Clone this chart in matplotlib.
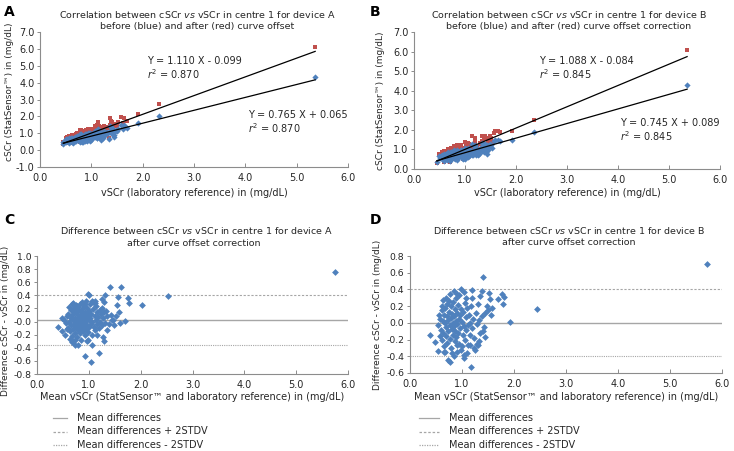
import matplotlib
matplotlib.use("Agg")
import matplotlib.pyplot as plt
import numpy as np
from matplotlib.lines import Line2D

# ---------------- data ----------------
# Bland-Altman pairs after curve offset correction: mean of (cSCr, vSCr) and difference cSCr - vSCr
mean_a = [5.74, 2.52, 2.03, 1.70, 1.62, 1.40, 1.31, 1.57, 1.76, 1.78, 1.30, 1.54, 1.59, 1.33, 1.44,
          1.12, 0.99, 0.41, 0.93, 1.04, 1.20, 0.98, 1.06, 1.28, 1.29, 0.79, 0.73, 0.67, 0.64, 0.54,
          0.49, 0.48, 1.15, 1.36, 1.38, 1.47, 1.22, 1.14, 1.09, 0.93, 0.80, 0.70, 0.77,
          0.55, 0.58, 0.60, 0.60, 0.62, 0.63, 0.65, 0.65, 0.66, 0.68, 0.68, 0.70, 0.70, 0.71, 0.72,
          0.72, 0.73, 0.74, 0.75, 0.75, 0.76, 0.77, 0.77, 0.78, 0.78, 0.79, 0.80, 0.80, 0.81, 0.82,
          0.82, 0.83, 0.84, 0.84, 0.85, 0.85, 0.86, 0.87, 0.88, 0.88, 0.89, 0.90, 0.90, 0.91, 0.92,
          0.92, 0.93, 0.94, 0.95, 0.95, 0.96, 0.97, 0.98, 0.99, 1.00, 1.00, 1.01, 1.02, 1.03, 1.04,
          1.05, 1.06, 1.07, 1.08, 1.10, 1.11, 1.12, 1.13, 1.15, 1.16, 1.18, 1.20, 1.22, 1.24, 1.26,
          1.28, 1.30, 1.32, 1.35, 0.57, 0.62, 0.67, 0.74, 0.83, 0.69, 0.87, 0.94, 1.06, 1.12, 0.52,
          1.25, 1.42, 1.48, 1.52, 1.60, 0.97, 1.00, 1.25]
diff_a = [0.76, 0.385, 0.25, 0.015, 0.53, 0.53, 0.40, 0.37, 0.36, 0.29, 0.30, 0.26, 0.15, 0.16, 0.02,
          0.28, 0.42, -0.09, -0.52, -0.61, -0.48, -0.28, -0.35, -0.23, -0.29, -0.35, -0.36, -0.31, -0.26, -0.20,
          -0.15, 0.05, -0.20, -0.13, -0.03, 0.03, 0.18, 0.23, 0.30, 0.27, 0.18, 0.28, 0.23,
          -0.02, 0.08, -0.10, 0.12, 0.00, -0.15, 0.05, 0.18, -0.06, 0.10, -0.22, 0.02, -0.12, 0.20, -0.04,
          0.14, -0.18, 0.06, -0.08, 0.25, 0.00, -0.24, 0.12, -0.02, 0.17, -0.13, 0.04, 0.22, -0.06, 0.09,
          -0.18, 0.01, 0.14, -0.10, -0.28, 0.05, 0.19, -0.03, 0.10, -0.15, 0.00, 0.24, -0.07, 0.07, -0.20,
          0.15, -0.01, 0.11, -0.12, 0.04, 0.20, -0.05, 0.08, -0.16, 0.02, 0.16, -0.09, 0.27, 0.06, -0.03,
          0.12, -0.20, 0.00, 0.19, -0.08, 0.09, -0.13, 0.03, 0.15, -0.04, 0.07, -0.10, 0.00, 0.12, -0.06,
          0.05, 0.14, -0.02, 0.08, -0.12, 0.22, 0.27, -0.28, 0.27, -0.30, 0.30, 0.32, 0.32, 0.32, 0.02,
          0.20, 0.10, -0.05, 0.08, -0.02, -0.30, 0.40, 0.35]

mean_b = [5.71, 1.41, 2.44, 1.92, 1.76, 1.81, 1.79, 1.54, 1.51, 1.38, 1.19, 0.99, 1.03, 0.85, 1.35,
          0.38, 0.48, 0.54, 0.67, 0.74, 0.77, 1.03, 1.04, 1.17, 1.25, 1.31, 1.44, 1.40, 1.15, 0.91,
          0.80, 1.33, 1.50, 1.55, 1.28, 1.70, 1.58, 0.75, 0.90, 0.62, 0.55,
          0.58, 0.60, 0.61, 0.62, 0.63, 0.64, 0.65, 0.66, 0.67, 0.68, 0.69, 0.70, 0.71, 0.72, 0.72,
          0.73, 0.74, 0.75, 0.76, 0.77, 0.78, 0.78, 0.79, 0.80, 0.81, 0.82, 0.82, 0.83, 0.84, 0.85,
          0.86, 0.87, 0.87, 0.88, 0.89, 0.90, 0.91, 0.92, 0.93, 0.94, 0.95, 0.96, 0.97, 0.98, 0.99,
          1.00, 1.01, 1.02, 1.03, 1.05, 1.06, 1.07, 1.08, 1.10, 1.11, 1.12, 1.13, 1.15, 1.16, 1.18,
          1.20, 1.22, 1.24, 1.26, 1.28, 1.30, 1.32, 1.35, 1.38, 1.42, 0.57, 0.63, 0.70, 0.88, 0.95,
          1.08, 0.66, 0.90, 1.00, 0.53, 0.76, 1.20, 1.45, 1.48, 0.85, 1.10, 1.23]
diff_b = [0.71, 0.55, 0.17, 0.01, 0.34, 0.31, 0.22, 0.29, 0.36, 0.38, 0.39, 0.40, 0.37, 0.38, 0.32,
          -0.14, -0.23, -0.34, -0.35, -0.44, -0.47, -0.38, -0.42, -0.53, -0.32, -0.27, -0.17, -0.10, -0.26, -0.26,
          -0.36, -0.22, 0.15, 0.10, -0.25, 0.28, 0.18, 0.26, 0.34, 0.20, 0.10,
          0.05, -0.08, 0.15, -0.20, 0.02, -0.12, 0.10, -0.28, 0.00, 0.18, -0.05, -0.16, 0.08, 0.22, -0.24,
          0.03, -0.10, 0.13, -0.02, -0.19, 0.06, 0.20, -0.30, -0.07, 0.11, 0.00, -0.14, 0.25, -0.04, 0.08,
          -0.22, 0.16, -0.10, 0.02, -0.17, 0.12, -0.01, 0.21, -0.12, 0.05, -0.25, 0.09, -0.06, 0.17, -0.32,
          0.01, -0.15, 0.13, -0.04, 0.24, -0.20, 0.07, -0.09, 0.18, -0.02, -0.27, 0.10, 0.00, -0.14, 0.20,
          -0.06, 0.05, -0.18, 0.12, -0.01, 0.22, 0.04, -0.12, 0.08, -0.05, -0.16, 0.27, 0.30, 0.30, 0.33,
          0.30, -0.35, -0.35, -0.28, -0.02, 0.35, 0.30, 0.12, 0.20, -0.40, -0.36, -0.30]

# regression equations printed on the charts (before / after curve offset correction)
slope_before_a, icpt_before_a = 0.765, 0.065
slope_after_a, icpt_after_a = 1.110, -0.099
r2_a = 0.870
slope_before_b, icpt_before_b = 0.745, 0.089
slope_after_b, icpt_after_b = 1.088, -0.084
r2_b = 0.845

# mean difference and +/- 2 STDV limits
limits_a = (0.02, 0.40, -0.36)
limits_b = (0.00, 0.40, -0.40)

# ---------------- derived series ----------------
def pairs(mean, diff, sb, ib, sa, ia):
    mean = np.asarray(mean); diff = np.asarray(diff)
    vscr = mean - diff / 2.0
    after = mean + diff / 2.0
    before = ib + (sb / sa) * (after - ia)   # undo the linear offset correction
    return vscr, before, after

vA, befA, aftA = pairs(mean_a, diff_a, slope_before_a, icpt_before_a, slope_after_a, icpt_after_a)
vB, befB, aftB = pairs(mean_b, diff_b, slope_before_b, icpt_before_b, slope_after_b, icpt_after_b)

# ---------------- style ----------------
W, H = 734, 451
BLUE = "#4F81BD"
RED = "#C0504D"
GRID = "#8C8C8C"
TXT = "#262626"
FS = 7.0
YFS = 6.5
plt.rcParams["font.family"] = ["DejaVu Sans"]
plt.rcParams["mathtext.fontset"] = "dejavusans"

fig = plt.figure(figsize=(W / 100, H / 100), dpi=100)


def add_ax(l, t, r, b):
    return fig.add_axes([l / W, 1 - b / H, (r - l) / W, (b - t) / H])


def style(ax, xt, yt, yfs=FS):
    for s in ("top", "right"):
        ax.spines[s].set_visible(False)
    for s in ("left", "bottom"):
        ax.spines[s].set_color(GRID)
        ax.spines[s].set_linewidth(0.8)
    ax.set_xticks(xt)
    ax.set_yticks(yt)
    ax.set_xticklabels([f"{v:.1f}" for v in xt])
    ax.set_yticklabels([f"{v:.1f}" for v in yt])
    ax.tick_params(axis="x", direction="in", length=3, width=0.7, color=GRID,
                   labelsize=FS, labelcolor=TXT, pad=4)
    ax.tick_params(axis="y", direction="out", length=2, width=0.7, color=GRID,
                   labelsize=yfs, labelcolor=TXT, pad=2)
    ax.set_xlim(xt[0], xt[-1])
    ax.set_ylim(yt[0], yt[-1])


def ftext(px, py, s, **kw):
    kw.setdefault("fontsize", FS)
    kw.setdefault("color", TXT)
    fig.text(px / W, 1 - py / H, s, **kw)


xt = np.arange(0, 7, 1.0)

# ---------- panel A ----------
axA = add_ax(40, 32, 348, 167)
axA.scatter(vA, aftA, marker="s", s=12, color=RED, linewidths=0, zorder=2)
axA.scatter(vA, befA, marker="D", s=10, color=BLUE, linewidths=0, zorder=3)
xr = np.array([vA.min(), vA.max()])
axA.plot(xr, slope_after_a * xr + icpt_after_a, color="black", lw=0.9, zorder=4)
axA.plot(xr, slope_before_a * xr + icpt_before_a, color="black", lw=0.9, zorder=4)
style(axA, xt, np.arange(-1, 8, 1.0))
axA.set_xlabel("vSCr (laboratory reference) in (mg/dL)", fontsize=FS, color=TXT)
axA.set_ylabel("cSCr (StatSensor™) in (mg/dL)", fontsize=YFS, color=TXT)
axA.yaxis.set_label_coords(-0.085, 0.56)
axA.xaxis.set_label_coords(0.5, -0.155)
ftext(147, 61, f"Y = {slope_after_a:.3f} X - {abs(icpt_after_a):.3f}", va="center")
ftext(147, 74, f"$r^2$ = {r2_a:.3f}", va="center")
ftext(248, 115, f"Y = {slope_before_a:.3f} X + {icpt_before_a:.3f}", va="center")
ftext(248, 128, f"$r^2$ = {r2_a:.3f}", va="center")
ftext(197, 15, "Correlation between cSCr $\\it{vs}$ vSCr in centre 1 for device A", ha="center", va="center", fontsize=6.8)
ftext(197, 27, "before (blue) and after (red) curve offset", ha="center", va="center", fontsize=6.8)
ftext(4, 12, "A", fontsize=10, fontweight="bold", color="black", va="center")

# ---------- panel B ----------
axB = add_ax(414, 32, 720, 169)
axB.scatter(vB, aftB, marker="s", s=12, color=RED, linewidths=0, zorder=2)
axB.scatter(vB, befB, marker="D", s=10, color=BLUE, linewidths=0, zorder=3)
xr = np.array([vB.min(), vB.max()])
axB.plot(xr, slope_after_b * xr + icpt_after_b, color="black", lw=0.9, zorder=4)
axB.plot(xr, slope_before_b * xr + icpt_before_b, color="black", lw=0.9, zorder=4)
style(axB, xt, np.arange(0, 8, 1.0))
axB.set_xlabel("vSCr (laboratory reference) in (mg/dL)", fontsize=FS, color=TXT)
axB.set_ylabel("cSCr (StatSensor™) in (mg/dL)", fontsize=YFS, color=TXT)
axB.yaxis.set_label_coords(-0.095, 0.5)
axB.xaxis.set_label_coords(0.5, -0.14)
ftext(539, 61, f"Y = {slope_after_b:.3f} X - {abs(icpt_after_b):.3f}", va="center")
ftext(539, 74, f"$r^2$ = {r2_b:.3f}", va="center")
ftext(620, 123, f"Y = {slope_before_b:.3f} X + {icpt_before_b:.3f}", va="center")
ftext(620, 136, f"$r^2$ = {r2_b:.3f}", va="center")
ftext(569, 15, "Correlation between cSCr $\\it{vs}$ vSCr in centre 1 for device B", ha="center", va="center", fontsize=6.8)
ftext(569, 27, "before (blue) and after (red) curve offset correction", ha="center", va="center", fontsize=6.8)
ftext(370, 12, "B", fontsize=10, fontweight="bold", color="black", va="center")


# ---------- difference panels ----------
def diff_panel(ax, mean, diff, lim, yt):
    m, up, lo = lim
    ax.axhline(m, color="#A6A6A6", lw=1.0, zorder=1)
    ax.axhline(up, color="#A6A6A6", lw=0.8, ls=(0, (2, 1.5)), zorder=1)
    ax.axhline(lo, color="#A6A6A6", lw=0.8, ls=(0, (1, 1)), zorder=1)
    ax.scatter(mean, diff, marker="D", s=12, color=BLUE, linewidths=0, zorder=3)
    style(ax, xt, yt, yfs=6.7)
    ax.set_xlabel("Mean vSCr (StatSensor™ and laboratory reference) in (mg/dL)", fontsize=FS, color=TXT)
    ax.set_ylabel("Difference cSCr - vSCr in (mg/dL)", fontsize=YFS, color=TXT)


axC = add_ax(37, 256, 348, 374)
diff_panel(axC, mean_a, diff_a, limits_a, np.round(np.arange(-0.8, 1.01, 0.2), 1))
axC.yaxis.set_label_coords(-0.087, 0.45)
axC.xaxis.set_label_coords(0.5, -0.15)
ftext(197, 230, "Difference between cSCr $\\it{vs}$ vSCr in centre 1 for device A", ha="center", va="center", fontsize=6.8)
ftext(194, 243, "after curve offset correction", ha="center", va="center", fontsize=6.8)
ftext(4, 220, "C", fontsize=10, fontweight="bold", color="black", va="center")

axD = add_ax(410, 256, 722, 373)
diff_panel(axD, mean_b, diff_b, limits_b, np.round(np.arange(-0.6, 0.81, 0.2), 1))
axD.yaxis.set_label_coords(-0.09, 0.5)
axD.xaxis.set_label_coords(0.5, -0.16)
ftext(569, 230, "Difference between cSCr $\\it{vs}$ vSCr in centre 1 for device B", ha="center", va="center", fontsize=6.8)
ftext(569, 242, "after curve offset correction", ha="center", va="center", fontsize=6.8)
ftext(370, 220, "D", fontsize=10, fontweight="bold", color="black", va="center")

# legends
labels = ["Mean differences", "Mean differences + 2STDV", "Mean differences - 2STDV"]
styles = ["-", (0, (2, 1.5)), (0, (1, 1))]
for (x0, x1, xt0) in ((53, 67, 77), (419, 439, 449)):
    for i, (lab, ls) in enumerate(zip(labels, styles)):
        py = 418 + i * 13.5
        fig.add_artist(Line2D([x0 / W, x1 / W], [1 - py / H, 1 - py / H], color="#A6A6A6",
                              lw=0.9, ls=ls, transform=fig.transFigure))
        ftext(xt0, py, lab, va="center")

fig.savefig("out.png", dpi=100, facecolor="white")
